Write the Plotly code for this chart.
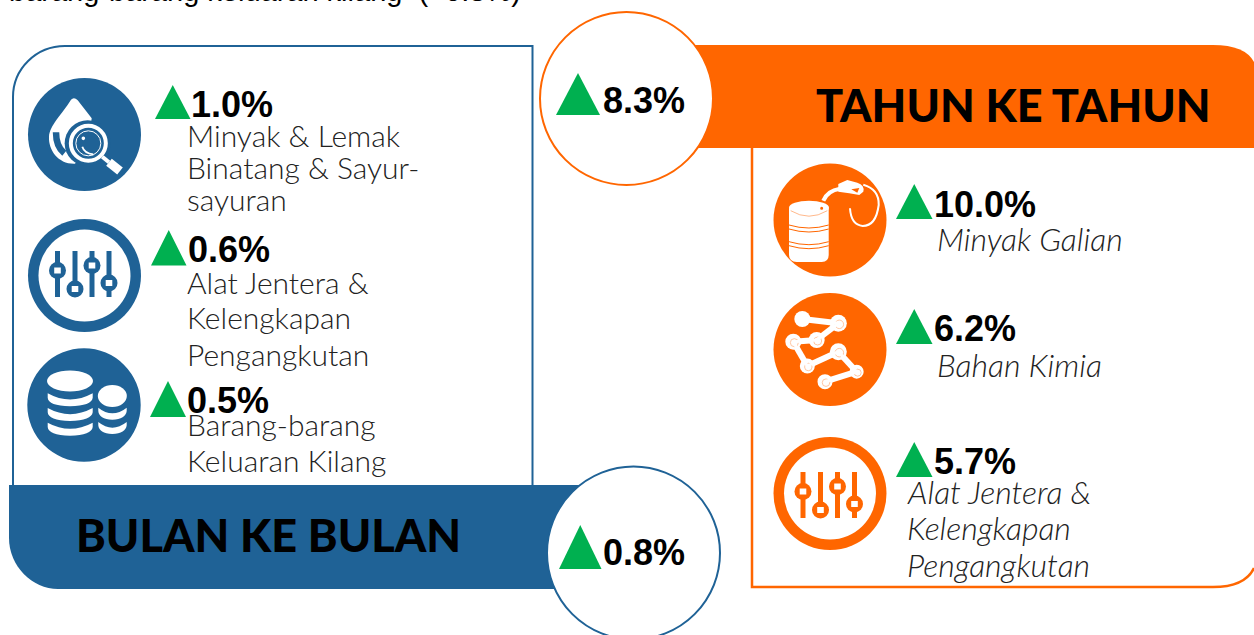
import plotly.graph_objects as go

# ---------- data ----------
HEADER_TEXT = "barang-barang keluaran kilang\u00a0 (+0.8%)"
MOM_TITLE = "BULAN KE BULAN"
YOY_TITLE = "TAHUN KE TAHUN"
MOM_TOTAL = 0.8
YOY_TOTAL = 8.3
MOM_VALUES = [1.0, 0.6, 0.5]
MOM_LABELS = [["Minyak & Lemak", "Binatang & Sayur-", "sayuran"],
              ["Alat Jentera &", "Kelengkapan", "Pengangkutan"],
              ["Barang-barang", "Keluaran Kilang"]]
YOY_VALUES = [10.0, 6.2, 5.7]
YOY_LABELS = [["Minyak Galian"], ["Bahan Kimia"],
              ["Alat Jentera &", "Kelengkapan", "Pengangkutan"]]

# ---------- styles ----------
BLUE = "#1f6296"
ORANGE = "#ff6600"
PALE = "#ffb98c"
GREEN = "#00b050"
WHITE = "#ffffff"
PCT_FONT = "Liberation Sans"
LABEL_FONT = "Lato"
LABEL_SIZE = 30
ITALIC_SIZE = 32
TITLE_FONT = "Lato"

shapes, annots = [], []


def path(d, fill=None, line=None, width=0):
    shapes.append(dict(type="path", xref="x", yref="y", path=d, fillcolor=fill or "rgba(0,0,0,0)",
                       line=dict(color=line or "rgba(0,0,0,0)", width=width), layer="above"))


def ell(cx, cy, rx, ry=None, fill=None, line=None, width=0):
    ry = rx if ry is None else ry
    shapes.append(dict(type="circle", xref="x", yref="y", x0=cx - rx, x1=cx + rx, y0=cy - ry, y1=cy + ry,
                       fillcolor=fill or "rgba(0,0,0,0)",
                       line=dict(color=line or "rgba(0,0,0,0)", width=width), layer="above"))


def text(s, x, base, size, family, color="#000000", bold=False, italic=False, desc=0.212, weight=None):
    annots.append(dict(text=("<b>%s</b>" % s) if bold else (("<i>%s</i>" % s) if italic else s),
                       x=x, y=base + desc * size, xref="x", yref="y", xanchor="left", yanchor="bottom",
                       showarrow=False, borderpad=0, borderwidth=0, align="left",
                       font=dict(family=family, size=size, color=color, **({"weight": weight} if weight else {}))))


def tri(x0, x1, y0, y1):
    path("M%g %gL%g %gL%g %gZ" % (x0, y1, (x0 + x1) / 2, y0, x1, y1), fill=GREEN)


def pct(v, x, base):
    text("%.1f%%" % v, x, base, 36, PCT_FONT, bold=True)


def crop(ox, oy):
    """Convert coordinates measured in a 3x crop with origin ox,oy."""
    return lambda a, b: "%.1f %.1f" % (ox + a / 3, oy + b / 3)


def sliders(col, cx, cy, dy):
    ell(cx, cy, 56.5, fill=col)
    ell(cx, cy, 46, fill=WHITE)
    bars = [-27, -9.5, 7.5, 24.5]
    knobs = [-2, 16.5, -7, 10.5]
    for bx, ky in zip(bars, knobs):
        shapes.append(dict(type="rect", xref="x", yref="y", x0=cx + bx - 2.5, x1=cx + bx + 2.5,
                           y0=cy + dy - 21.5, y1=cy + dy + 24.5, fillcolor=col, line=dict(width=0), layer="above"))
        ell(cx + bx, cy + dy + ky, 8.5, fill=col)
        shapes.append(dict(type="rect", xref="x", yref="y", x0=cx + bx - 3.3, x1=cx + bx + 3.3,
                           y0=cy + dy + ky - 3, y1=cy + dy + ky + 3, fillcolor=WHITE, line=dict(width=0), layer="above"))


# ---------- panels ----------
path("M13 486L13 97C13 69 36 46 65 46L532.5 46L532.5 486", line=BLUE, width=2)
path("M752 148L752 587L1213 587Q1245 587 1254 568", line=ORANGE, width=2.5)
path("M9 485L640 485L640 589L58 589C32 589 9 566 9 538Z", fill=BLUE)
path("M626 45L1213 45Q1245 45 1254 62L1254 148L626 148Z", fill=ORANGE)
ell(626.5, 98.5, 86.5, fill=WHITE, line=ORANGE, width=2)
ell(633.5, 553, 86.5, fill=WHITE, line=BLUE, width=2)

# ---------- icon 1: drop + magnifier ----------
ell(84.5, 134.5, 56.5, fill=BLUE)
c = crop(25, 75)
path("M%sQ%s %sL%sL%sL%sC%s %s %sC%s %s %sZ" % (
    c(138, 74), c(147, 64), c(158, 76), c(200, 130), c(190, 205), c(150, 266),
    c(100, 268), c(70, 225), c(72, 185), c(74, 150), c(110, 120), c(138, 74)), fill=WHITE)
path("M%sQ%s %s" % (c(93, 172), c(93, 215), c(118, 235)), line=BLUE, width=6.5)
ell(25 + 188 / 3, 75 + 205 / 3, 23, fill=BLUE)
ell(25 + 190 / 3, 75 + 205 / 3, 17.5, fill=BLUE, line=WHITE, width=4)
ell(25 + 190 / 3, 75 + 205 / 3, 12.5, fill=BLUE, line=WHITE, width=1)
path("M%sL%s" % (c(232, 245), c(252, 262)), line=WHITE, width=4)
path("M%sL%s" % (c(252, 262), c(285, 288)), line=WHITE, width=9)
path("M%sQ%s %s" % (c(172, 215), c(178, 235), c(205, 238)), line=WHITE, width=1.8)
ell(25 + 175 / 3, 75 + 190 / 3, 1.8, fill=WHITE)

# ---------- icon 2: blue sliders ----------
sliders(BLUE, 84.5, 275.5, -3)

# ---------- icon 3: coins ----------
ell(84, 405, 56.7, fill=BLUE)
c = crop(25, 345)
ell(25 + 135 / 3, 345 + 108 / 3, 23, 10.5, fill=WHITE)
for dy in (0, 44, 88):
    path("M%sQ%s %sL%sQ%s %sQ%s %sZ" % (
        c(68, 145 + dy), c(135, 182 + dy), c(203, 145 + dy), c(203, 158 + dy), c(200, 182 + dy),
        c(135, 184 + dy), c(70, 182 + dy), c(68, 158 + dy)), fill=WHITE)
ell(25 + 262 / 3, 345 + 153 / 3, 14.5, 11, fill=WHITE)
for dy in (0, 43):
    path("M%sQ%s %sL%sQ%s %sQ%s %sZ" % (
        c(220, 188 + dy), c(262, 222 + dy), c(305, 188 + dy), c(305, 198 + dy), c(302, 222 + dy),
        c(262, 224 + dy), c(222, 222 + dy), c(220, 198 + dy)), fill=WHITE)

# ---------- icon 4: barrel + pump ----------
ell(830, 220, 56.5, fill=ORANGE)
c = crop(770, 160)
path("M%sL%sQ%s %sL%sQ%s %sL%sZ" % (c(57, 145), c(57, 285), c(58, 305), c(80, 306), c(155, 306),
                                    c(176, 305), c(176, 285), c(176, 145)), fill=WHITE)
ell(770 + 117 / 3, 160 + 143 / 3, 20, 7, fill=WHITE)
path("M%sQ%s %s" % (c(62, 152), c(117, 185), c(172, 152)), line=PALE, width=1)
for y in (195, 245):
    path("M%sQ%s %s" % (c(57, y), c(117, y + 18), c(176, y)), line=ORANGE, width=1)
    path("M%sQ%s %s" % (c(57, y + 12), c(117, y + 30), c(176, y + 12)), line=ORANGE, width=1)
ell(770 + 155 / 3, 160 + 145 / 3, 1.5, fill=ORANGE)
path("M%sQ%s %s" % (c(160, 122), c(172, 92), c(210, 86)), line=WHITE, width=4)
path("M%sL%sL%sQ%s %sL%sL%sL%sZ" % (c(205, 72), c(232, 60), c(262, 68), c(285, 75), c(280, 95),
                                     c(268, 105), c(238, 100), c(205, 95)), fill=WHITE)
path("M%sL%sL%sZ" % (c(244, 88), c(268, 84), c(262, 98)), fill=ORANGE)
path("M%sQ%s %sQ%s %sQ%s %s" % (c(280, 74), c(328, 88), c(326, 135), c(318, 198), c(278, 198),
                                 c(243, 195), c(240, 145)), line=WHITE, width=2)

# ---------- icon 5: molecules ----------
ell(830, 349.5, 56.5, fill=ORANGE)
c = crop(770, 290)
nodes = [(97, 87, 8), (205, 100, 8.5), (140, 150, 8), (70, 155, 8), (112, 228, 7.5), (205, 185, 8.5),
         (260, 245, 7), (165, 275, 7.5)]
for (a, b, _), (d, e, _) in zip(nodes[:-1], nodes[1:]):
    path("M%sL%s" % (c(a, b), c(d, e)), line=WHITE, width=6)
for n, (a, b, r) in enumerate(nodes):
    ell(770 + a / 3, 290 + b / 3, r, fill=WHITE)
    if n:
        ell(770 + a / 3 + 1, 290 + b / 3 + 1, r * 0.5, line=PALE, width=0.8)
for (a, b, _), (d, e, _) in zip(nodes[:-1], nodes[1:]):
    path("M%sL%s" % (c(a, b), c(d, e)), line=WHITE, width=3)

# ---------- icon 6: orange sliders ----------
sliders(ORANGE, 830, 493.5, 0)

# ---------- triangles ----------
MOM_TRI = [(155, 190.5, 85, 119), (151, 186.5, 230, 265.5), (150, 186, 381, 417)]
YOY_TRI = [(896, 932.5, 184, 219), (896, 932.5, 309, 344), (896, 932.5, 442, 477)]
for t in MOM_TRI + YOY_TRI:
    tri(*t)
tri(559, 601.5, 525, 569)
tri(556, 600, 73, 115)

# ---------- text ----------
text(HEADER_TEXT, 9, 1, 29, PCT_FONT)
text(MOM_TITLE, 76, 553, 45, TITLE_FONT, desc=0.2, weight=900)
text(YOY_TITLE, 816, 123, 45, TITLE_FONT, desc=0.2, weight=900)
pct(MOM_TOTAL, 603, 565)
pct(YOY_TOTAL, 603, 113)
for v, x, b in zip(MOM_VALUES, [191, 188, 187], [117, 262, 413]):
    pct(v, x, b)
for v, x, b in zip(YOY_VALUES, [934, 934, 934], [217, 341, 474]):
    pct(v, x, b)
MOM_BASES = [[147, 179, 211], [294, 329, 366], [436, 472]]
for lines, bases in zip(MOM_LABELS, MOM_BASES):
    for s, b in zip(lines, bases):
        text(s, 187, b, LABEL_SIZE, LABEL_FONT, color="#222222", desc=0.2, weight=300)
YOY_X = [937, 937, 907]
YOY_BASES = [[252], [378], [505, 541, 578]]
for lines, x, bases in zip(YOY_LABELS, YOY_X, YOY_BASES):
    for s, b in zip(lines, bases):
        text(s, x, b, ITALIC_SIZE, LABEL_FONT, color="#222222", italic=True, desc=0.2, weight=300)

fig = go.Figure()
fig.update_layout(width=1254, height=635, margin=dict(l=0, r=0, t=0, b=0), showlegend=False,
                  paper_bgcolor=WHITE, plot_bgcolor=WHITE, shapes=shapes, annotations=annots,
                  xaxis=dict(range=[0, 1254], visible=False, fixedrange=True),
                  yaxis=dict(range=[635, 0], visible=False, fixedrange=True))
fig.write_html("out.html", config={"displayModeBar": False},
               post_script="document.body.style.margin='0';document.body.style.overflow='hidden';")
